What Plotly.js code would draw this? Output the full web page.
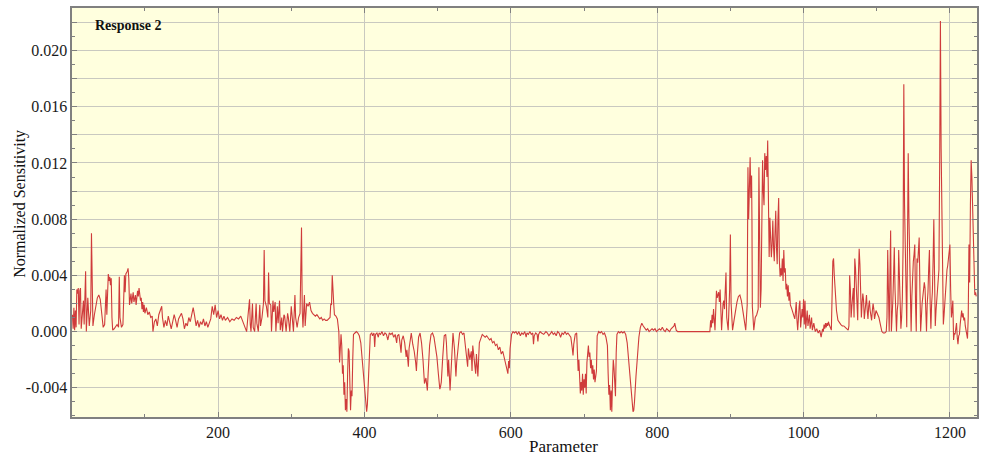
<!DOCTYPE html>
<html>
<head>
<meta charset="utf-8">
<script src="https://cdn.plot.ly/plotly-3.0.1.min.js"></script>
<style>html,body{margin:0;padding:0;background:#fff;}#chart{width:984px;height:455px;}</style>
</head>
<body>
<div id="chart"></div>
<script>
// [parameter index, normalized sensitivity]
const samples = [
[1,0.0012],[2,0.0002],[3,0.0017],[4,0.0001],[5,0.0015],[6,0.0003],[7,0.0030],[8,0.0027],[9,0.0031],[10,0.0005],
[11,0.0029],[12,0.0031],[13,0.0002],[14,0.0012],[16,0.0022],[17,0.0005],[19,0.0043],[20,0.0000],[22,0.0024],[24,0.0004],
[26,0.0015],[27,0.0070],[28,0.0006],[29,0.0004],[31,0.0012],[33,0.0020],[35,0.0024],[37,0.0026],[39,0.0023],[41,0.0013],
[43,0.0003],[45,0.0005],[47,0.0030],[48,0.0012],[49,0.0037],[50,0.0041],[51,0.0036],[52,0.0039],[53,0.0033],[54,0.0038],
[55,0.0010],[56,0.0001],[58,0.0002],[60,0.0004],[62,0.0005],[64,0.0003],[65,0.0039],[66,0.0010],[68,0.0003],[70,0.0005],
[71,0.0035],[72,0.0040],[73,0.0028],[74,0.0041],[76,0.0043],[77,0.0045],[78,0.0038],[79,0.0019],[81,0.0027],[82,0.0020],
[84,0.0028],[85,0.0021],[87,0.0026],[88,0.0019],[90,0.0029],[91,0.0025],[92,0.0031],[94,0.0022],[95,0.0024],[96,0.0016],
[97,0.0021],[98,0.0014],[99,0.0019],[100,0.0013],[102,0.0017],[104,0.0012],[106,0.0014],[108,0.0010],[110,0.0011],[111,0.0000],
[113,0.0007],[115,0.0009],[117,0.0004],[119,0.0012],[121,0.0015],[123,0.0018],[124,0.0010],[126,0.0003],[128,0.0008],[130,0.0004],
[132,0.0011],[134,0.0006],[136,0.0002],[138,0.0007],[140,0.0012],[142,0.0008],[144,0.0003],[146,0.0009],[148,0.0011],[150,0.0013],
[152,0.0009],[154,0.0002],[156,0.0006],[158,0.0004],[160,0.0010],[162,0.0007],[164,0.0012],[166,0.0017],[168,0.0011],[170,0.0004],
[172,0.0008],[174,0.0003],[176,0.0007],[178,0.0005],[180,0.0009],[182,0.0004],[184,0.0007],[186,0.0003],[188,0.0006],[190,0.0009],
[192,0.0018],[194,0.0012],[196,0.0019],[198,0.0010],[200,0.0015],[202,0.0009],[204,0.0012],[206,0.0008],[208,0.0011],[210,0.0008],
[213,0.0010],[216,0.0007],[219,0.0009],[222,0.0008],[225,0.0010],[228,0.0009],[231,0.0011],[234,0.0007],[237,0.0004],[239,0.0000],
[241,0.0012],[243,0.0023],[244,0.0005],[245,0.0000],[247,0.0020],[248,0.0003],[250,0.0000],[252,0.0020],[253,0.0006],[255,0.0000],
[257,0.0019],[258,0.0004],[260,0.0010],[262,0.0020],[263,0.0058],[264,0.0022],[266,0.0018],[268,0.0010],[269,0.0042],[270,0.0020],
[272,0.0019],[273,0.0000],[275,0.0022],[276,0.0014],[278,0.0021],[279,0.0000],[281,0.0018],[282,0.0006],[284,0.0022],[285,0.0001],
[287,0.0010],[288,0.0000],[290,0.0012],[291,0.0011],[293,0.0000],[295,0.0013],[296,0.0010],[298,0.0000],[300,0.0018],[301,0.0011],
[303,0.0000],[305,0.0026],[306,0.0010],[308,0.0003],[310,0.0010],[312,0.0013],[314,0.0074],[315,0.0015],[316,0.0003],[318,0.0026],
[319,0.0004],[321,0.0020],[323,0.0018],[325,0.0021],[327,0.0015],[329,0.0013],[331,0.0012],[333,0.0011],[335,0.0012],[337,0.0010],
[339,0.0009],[341,0.0010],[343,0.0008],[345,0.0009],[347,0.0008],[349,0.0008],[351,0.0009],[353,0.0010],[354,0.0020],[355,0.0019],
[356,0.0040],[357,0.0021],[358,0.0020],[359,0.0012],[361,0.0011],[363,0.0009],[364,0.0006],[365,0.0000],[366,-0.0022],[367,-0.0006],
[368,-0.0002],[369,-0.0010],[370,-0.0030],[371,-0.0024],[372,-0.0045],[373,-0.0036],[374,-0.0056],[375,-0.0048],[376,-0.0057],[377,-0.0030],
[378,-0.0012],[379,-0.0014],[380,-0.0040],[381,-0.0056],[382,-0.0042],[383,-0.0046],[384,-0.0020],[385,-0.0002],[387,-0.0001],[389,0.0000],
[391,-0.0001],[393,-0.0003],[395,-0.0008],[397,-0.0020],[399,-0.0036],[401,-0.0050],[402,-0.0056],[403,-0.0057],[404,-0.0052],[405,-0.0038],
[406,-0.0020],[407,-0.0006],[408,-0.0002],[410,-0.0001],[411,-0.0003],[413,-0.0001],[414,-0.0011],[415,-0.0002],[417,-0.0001],[419,-0.0004],
[420,-0.0001],[422,-0.0002],[424,0.0000],[426,-0.0003],[428,-0.0001],[430,-0.0002],[432,-0.0006],[434,-0.0001],[436,-0.0002],[438,-0.0001],
[440,-0.0004],[442,-0.0002],[444,-0.0008],[445,-0.0003],[447,-0.0002],[449,-0.0010],[450,-0.0015],[451,-0.0006],[453,-0.0003],[455,-0.0008],
[457,-0.0018],[458,-0.0013],[460,-0.0025],[461,-0.0012],[463,-0.0003],[464,-0.0001],[466,-0.0009],[468,-0.0014],[470,-0.0022],[471,-0.0028],
[472,-0.0018],[474,-0.0004],[476,-0.0001],[478,-0.0008],[480,-0.0020],[481,-0.0026],[482,-0.0037],[484,-0.0033],[486,-0.0042],[487,-0.0030],
[489,-0.0010],[491,-0.0002],[493,-0.0001],[495,-0.0004],[497,-0.0010],[499,-0.0018],[501,-0.0030],[503,-0.0041],[504,-0.0039],[505,-0.0036],
[507,-0.0018],[509,-0.0003],[511,-0.0002],[512,-0.0008],[514,-0.0032],[515,-0.0020],[517,-0.0042],[518,-0.0030],[520,-0.0008],[521,-0.0001],
[523,-0.0012],[525,-0.0032],[526,-0.0022],[528,-0.0008],[530,-0.0001],[532,0.0000],[534,-0.0002],[536,-0.0001],[538,-0.0010],[540,-0.0020],
[541,-0.0025],[542,-0.0012],[544,-0.0020],[546,-0.0014],[547,-0.0028],[548,-0.0010],[550,-0.0022],[552,-0.0030],[553,-0.0016],[555,-0.0032],
[556,-0.0020],[557,-0.0008],[559,-0.0005],[561,-0.0002],[563,-0.0003],[565,-0.0004],[567,-0.0003],[569,-0.0005],[571,-0.0006],[573,-0.0005],
[575,-0.0008],[577,-0.0007],[579,-0.0010],[581,-0.0009],[583,-0.0013],[585,-0.0011],[587,-0.0016],[589,-0.0014],[591,-0.0019],[593,-0.0022],
[595,-0.0028],[596,-0.0030],[597,-0.0021],[598,-0.0026],[599,-0.0012],[601,-0.0002],[603,0.0000],[605,-0.0001],[607,0.0000],[609,-0.0002],
[611,0.0000],[613,-0.0003],[615,-0.0001],[617,-0.0002],[619,0.0000],[621,-0.0004],[622,-0.0001],[624,-0.0002],[626,0.0000],[628,-0.0002],
[630,-0.0001],[631,-0.0009],[632,-0.0003],[634,-0.0001],[636,-0.0002],[637,-0.0007],[638,-0.0002],[640,0.0000],[642,-0.0001],[645,-0.0002],
[648,0.0000],[650,-0.0001],[652,-0.0003],[654,-0.0001],[656,0.0000],[658,-0.0002],[660,-0.0001],[662,-0.0003],[664,0.0000],[666,-0.0001],
[668,-0.0004],[670,-0.0001],[672,-0.0002],[674,0.0000],[676,-0.0002],[678,-0.0001],[680,-0.0003],[682,-0.0004],[684,-0.0012],[685,-0.0017],
[686,-0.0009],[688,-0.0002],[690,-0.0001],[691,-0.0012],[692,-0.0028],[693,-0.0020],[694,-0.0032],[695,-0.0044],[696,-0.0036],[697,-0.0042],
[698,-0.0030],[699,-0.0045],[700,-0.0034],[701,-0.0040],[702,-0.0030],[703,-0.0044],[704,-0.0022],[705,-0.0012],[706,-0.0010],[707,-0.0018],
[708,-0.0015],[709,-0.0026],[710,-0.0020],[711,-0.0030],[712,-0.0024],[713,-0.0034],[714,-0.0027],[715,-0.0036],[716,-0.0032],[717,-0.0028],
[718,-0.0003],[720,0.0000],[722,-0.0001],[724,0.0000],[726,-0.0002],[728,-0.0001],[730,-0.0004],[732,-0.0010],[733,-0.0030],[734,-0.0045],
[735,-0.0038],[736,-0.0056],[737,-0.0042],[738,-0.0057],[739,-0.0035],[740,-0.0020],[741,-0.0026],[742,-0.0042],[743,-0.0046],[744,-0.0015],
[745,-0.0002],[747,0.0000],[749,-0.0001],[751,0.0000],[753,-0.0001],[755,0.0000],[757,-0.0002],[759,-0.0008],[761,-0.0020],[763,-0.0035],
[765,-0.0048],[767,-0.0057],[768,-0.0056],[769,-0.0050],[771,-0.0032],[773,-0.0015],[775,-0.0004],[777,0.0003],[779,0.0006],[781,0.0004],
[783,0.0002],[785,0.0001],[787,0.0002],[789,0.0000],[791,0.0001],[793,0.0002],[795,0.0001],[797,0.0002],[799,0.0000],[801,0.0001],
[803,0.0002],[805,0.0001],[807,0.0003],[809,0.0001],[811,0.0000],[813,0.0002],[815,0.0001],[817,0.0000],[819,0.0002],[821,0.0003],
[823,0.0004],[824,0.0006],[826,0.0001],[828,0.0000],[872,0.0000],[873,0.0008],[874,0.0003],[875,0.0012],[876,0.0006],[877,0.0016],
[878,0.0008],[879,0.0001],[881,0.0029],[882,0.0024],[884,0.0028],[885,0.0021],[886,0.0030],[887,0.0012],[888,0.0001],[890,0.0020],
[891,0.0022],[892,0.0016],[894,0.0042],[895,0.0010],[897,0.0001],[899,0.0030],[900,0.0069],[901,0.0020],[903,0.0001],[905,0.0008],
[907,0.0015],[909,0.0021],[911,0.0025],[913,0.0026],[915,0.0022],[917,0.0014],[919,0.0006],[921,0.0001],[923,0.0019],[924,0.0117],
[925,0.0080],[926,0.0120],[927,0.0124],[928,0.0095],[929,0.0111],[929.5,0.0079],[930,0.0018],[932,0.0001],[934,0.0010],[936,0.0012],
[938,0.0016],[939,0.0117],[940,0.0030],[941,0.0017],[942,0.0030],[944,0.0122],[945,0.0100],[946,0.0090],[947,0.0127],[948,0.0115],
[949,0.0125],[950,0.0110],[951,0.0136],[952,0.0080],[953,0.0053],[954,0.0081],[955,0.0070],[956,0.0053],[957,0.0062],[958,0.0079],
[959,0.0060],[960,0.0050],[961,0.0070],[962,0.0086],[963,0.0060],[964,0.0048],[965,0.0080],[966,0.0095],[967,0.0050],[968,0.0039],
[969,0.0045],[970,0.0040],[971,0.0052],[972,0.0036],[973,0.0058],[974,0.0042],[975,0.0045],[976,0.0030],[977,0.0034],[978,0.0025],
[979,0.0033],[980,0.0022],[981,0.0028],[982,0.0019],[984,0.0016],[986,0.0012],[988,0.0009],[989,0.0014],[990,0.0021],[991,0.0008],
[992,0.0001],[994,0.0018],[995,0.0022],[996,0.0003],[998,0.0016],[999,0.0010],[1000,0.0023],[1001,0.0005],[1002,0.0022],[1003,0.0002],
[1005,0.0015],[1006,0.0004],[1008,0.0012],[1009,0.0002],[1011,0.0010],[1012,0.0001],[1014,0.0006],[1016,0.0000],[1018,0.0002],[1020,-0.0001],
[1022,0.0001],[1024,-0.0004],[1026,0.0002],[1027,0.0000],[1028,0.0005],[1029,0.0002],[1030,0.0006],[1031,0.0003],[1032,0.0006],[1033,0.0004],
[1034,0.0007],[1035,0.0005],[1036,0.0003],[1038,0.0001],[1040,0.0050],[1041,0.0052],[1042,0.0040],[1043,0.0030],[1044,0.0025],[1045,0.0015],
[1047,0.0008],[1049,0.0006],[1051,0.0005],[1053,0.0004],[1055,0.0004],[1057,0.0003],[1059,0.0002],[1061,0.0001],[1062,0.0004],[1063,0.0040],
[1064,0.0030],[1065,0.0010],[1066,0.0018],[1068,0.0031],[1069,0.0010],[1070,0.0052],[1071,0.0045],[1072,0.0031],[1073,0.0022],[1074,0.0008],
[1075,0.0040],[1076,0.0059],[1077,0.0048],[1078,0.0035],[1079,0.0010],[1080,0.0020],[1081,0.0027],[1082,0.0022],[1083,0.0009],[1085,0.0020],
[1086,0.0026],[1087,0.0015],[1088,0.0009],[1089,0.0018],[1090,0.0022],[1091,0.0015],[1093,0.0008],[1094,0.0015],[1095,0.0020],[1096,0.0016],
[1097,0.0009],[1099,0.0015],[1101,0.0012],[1103,0.0010],[1105,0.0005],[1107,0.0000],[1109,-0.0001],[1111,-0.0001],[1113,0.0000],[1114,0.0010],
[1115,0.0058],[1116,0.0030],[1117,0.0000],[1118,0.0040],[1119,0.0072],[1120,0.0000],[1121,0.0010],[1122,0.0022],[1123,0.0040],[1124,0.0060],
[1125,0.0030],[1126,0.0010],[1127,0.0000],[1128,0.0015],[1129,0.0020],[1130,0.0058],[1131,0.0030],[1132,0.0012],[1133,0.0002],[1134,0.0010],
[1135,0.0024],[1136,0.0060],[1137,0.0176],[1138,0.0090],[1139,0.0050],[1140,0.0010],[1141,0.0003],[1142,0.0060],[1143,0.0127],[1144,0.0081],
[1145,0.0055],[1146,0.0048],[1147,0.0000],[1148,0.0025],[1149,0.0048],[1150,0.0050],[1151,0.0055],[1152,0.0062],[1153,0.0020],[1154,0.0000],
[1155,0.0052],[1156,0.0049],[1157,0.0058],[1158,0.0067],[1159,0.0030],[1160,0.0000],[1162,0.0020],[1163,0.0025],[1164,0.0030],[1165,0.0035],
[1166,0.0031],[1167,0.0010],[1168,0.0000],[1169,0.0020],[1170,0.0028],[1171,0.0045],[1172,0.0058],[1173,0.0020],[1174,0.0002],[1175,0.0020],
[1176,0.0028],[1177,0.0050],[1178,0.0080],[1179,0.0040],[1180,0.0004],[1181,0.0015],[1182,0.0022],[1183,0.0028],[1184,0.0035],[1185,0.0044],
[1186,0.0120],[1187,0.0221],[1188,0.0130],[1189,0.0080],[1190,0.0030],[1191,0.0005],[1192,0.0012],[1193,0.0022],[1194,0.0030],[1195,0.0040],
[1196,0.0044],[1197,0.0047],[1198,0.0052],[1199,0.0056],[1200,0.0062],[1201,0.0030],[1202,0.0010],[1203,0.0015],[1204,0.0022],[1205,-0.0006],
[1206,-0.0001],[1207,-0.0002],[1208,0.0002],[1209,0.0006],[1210,-0.0004],[1211,-0.0009],[1212,-0.0003],[1213,-0.0002],[1214,0.0005],[1215,0.0012],
[1216,0.0015],[1217,0.0010],[1218,0.0013],[1219,0.0008],[1220,0.0010],[1221,0.0004],[1222,0.0002],[1223,-0.0002],[1224,-0.0005],[1225,0.0010],
[1226,0.0062],[1227,0.0035],[1228,0.0090],[1229,0.0122],[1230,0.0110],[1231,0.0090],[1232,0.0060],[1233,0.0036],[1234,0.0026],[1235,0.0028],
[1236,0.0025]
];
const parameter = samples.map(p => p[0]);
const sensitivity = samples.map(p => p[1]);

const xTickVals = [200, 400, 600, 800, 1000, 1200];
const xTickText = ['200', '400', '600', '800', '1000', '1200'];
const yTickVals = [-0.004, -0.002, 0, 0.002, 0.004, 0.006, 0.008, 0.010, 0.012, 0.014, 0.016, 0.018, 0.020, 0.022];
const yTickText = ['-0.004', '', '0.000', '', '0.004', '', '0.008', '', '0.012', '', '0.016', '', '0.020', ''];

const seriesName = 'Response 2';
const xTitle = 'Parameter';
const yTitle = 'Normalized Sensitivity';

const font = 'Liberation Serif, Times New Roman, serif';
const axisCommon = {
  showline: true, linecolor: '#808080', linewidth: 1.6, mirror: 'allticks',
  ticks: 'inside', ticklen: 5, tickcolor: '#808080', tickwidth: 1,
  showgrid: true, gridcolor: '#c9c9c0', gridwidth: 1, zeroline: false,
  tickfont: {family: font, size: 16, color: '#1a1a1a'}
};

const trace = {
  type: 'scatter', mode: 'lines', x: parameter, y: sensitivity,
  line: {color: '#cf3b3b', width: 1.1}, hoverinfo: 'skip', name: seriesName
};

const layout = {
  width: 984, height: 455,
  margin: {l: 72, r: 7, t: 8, b: 38},
  paper_bgcolor: '#ffffff', plot_bgcolor: '#ffffde',
  showlegend: false,
  font: {family: font, color: '#1a1a1a'},
  xaxis: Object.assign({}, axisCommon, {
    range: [0.4, 1237], tickmode: 'array', tickvals: xTickVals, ticktext: xTickText,
    minor: {dtick: 100, tick0: 0, ticks: 'inside', ticklen: 3, tickcolor: '#808080', showgrid: false}
  }),
  yaxis: Object.assign({}, axisCommon, {
    range: [-0.00608, 0.02303], tickmode: 'array', tickvals: yTickVals, ticktext: yTickText,
    minor: {dtick: 0.001, tick0: 0, ticks: 'inside', ticklen: 3, tickcolor: '#808080', showgrid: false}
  }),
  annotations: [
    {text: '<b>' + seriesName + '</b>', xref: 'paper', yref: 'paper', x: 0.0229, y: 0.956,
     xanchor: 'left', yanchor: 'middle', showarrow: false, font: {family: font, size: 14, color: '#111'}},
    {text: xTitle, xref: 'paper', yref: 'paper', x: 0.5436, y: -0.071,
     xanchor: 'center', yanchor: 'middle', showarrow: false, font: {family: font, size: 17, color: '#111'}},
    {text: yTitle, xref: 'paper', yref: 'paper', x: -0.0575, y: 0.521, textangle: -90,
     xanchor: 'center', yanchor: 'middle', showarrow: false, font: {family: font, size: 16, color: '#111'}}
  ]
};

Plotly.newPlot('chart', [trace], layout, {staticPlot: true, displayModeBar: false});
</script>
</body>
</html>
